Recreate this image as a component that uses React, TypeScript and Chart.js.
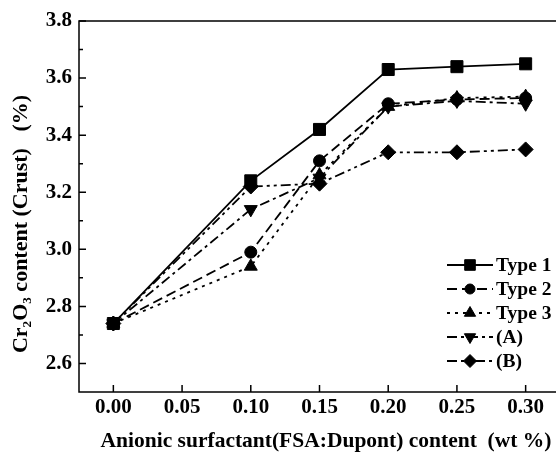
import { useEffect, useRef } from "react";
import { Chart, registerables } from "chart.js";
import { drawPoint } from "chart.js/helpers";

Chart.register(...registerables);

const xValues = [0, 0.1, 0.15, 0.2, 0.25, 0.3];
const type1 = [2.74, 3.24, 3.42, 3.63, 3.64, 3.65];
const type2 = [2.74, 2.99, 3.31, 3.51, 3.525, 3.53];
const type3 = [2.74, 2.94, 3.26, 3.5, 3.53, 3.535];
const seriesA = [2.74, 3.14, 3.25, 3.5, 3.52, 3.51];
const seriesB = [2.74, 3.22, 3.23, 3.34, 3.34, 3.35];
const seriesLabels = ["Type 1", "Type 2", "Type 3", "(A)", "(B)"];
const xTicks = [0, 0.05, 0.1, 0.15, 0.2, 0.25, 0.3];
const yTicks = [2.6, 2.8, 3.0, 3.2, 3.4, 3.6, 3.8];
const yMinorTicks = [2.7, 2.9, 3.1, 3.3, 3.5, 3.7];
const xTitle = "Anionic surfactant(FSA:Dupont) content  (wt %)";
const yTitle = "Cr\u2082O\u2083 content (Crust)   (%)";

const FONT = "'Liberation Serif', 'Times New Roman', serif";

const styles = [
  { pointStyle: "rect", radius: 8.5, rotation: 0, dash: [] as number[] },
  { pointStyle: "circle", radius: 6, rotation: 0, dash: [10, 5] },
  { pointStyle: "triangle", radius: 7.5, rotation: 0, dash: [3, 5] },
  { pointStyle: "triangle", radius: 7.5, rotation: 180, dash: [10, 4, 3, 4] },
  { pointStyle: "rectRot", radius: 7.5, rotation: 0, dash: [10, 4, 3, 4, 3, 4] },
];

const seriesValues = [type1, type2, type3, seriesA, seriesB];

const framePlugin = {
  id: "frameAndLegend",
  afterDraw(chart: any) {
    const { ctx, chartArea: a, scales } = chart;
    ctx.save();
    ctx.strokeStyle = "#000";
    ctx.lineWidth = 1.5;
    ctx.setLineDash([]);
    ctx.strokeRect(a.left, a.top, a.right - a.left, a.bottom - a.top);
    ctx.beginPath();
    yTicks.forEach((v) => {
      const y = scales.y.getPixelForValue(v);
      ctx.moveTo(a.left, y);
      ctx.lineTo(a.left + 7, y);
    });
    yMinorTicks.forEach((v) => {
      const y = scales.y.getPixelForValue(v);
      ctx.moveTo(a.left, y);
      ctx.lineTo(a.left + 4, y);
    });
    xTicks.forEach((v) => {
      const x = scales.x.getPixelForValue(v);
      ctx.moveTo(x, a.bottom);
      ctx.lineTo(x, a.bottom - 7);
    });
    ctx.stroke();

    // axis titles
    ctx.fillStyle = "#000";
    ctx.textBaseline = "middle";
    ctx.textAlign = "center";
    ctx.font = `bold 21.5px ${FONT}`;
    ctx.fillText(xTitle, 326, 441);
    ctx.save();
    ctx.translate(21, 224);
    ctx.rotate(-Math.PI / 2);
    ctx.font = `bold 22px ${FONT}`;
    ctx.fillText(yTitle, 0, 0);
    ctx.restore();

    // legend
    const lx0 = 447;
    const lx1 = 493;
    const ly0 = 265;
    const step = 24;
    ctx.font = `bold 19.5px ${FONT}`;
    ctx.textBaseline = "middle";
    ctx.textAlign = "left";
    seriesLabels.forEach((label, i) => {
      const y = ly0 + i * step;
      const s = styles[i];
      ctx.beginPath();
      ctx.lineWidth = 1.8;
      ctx.setLineDash(s.dash);
      ctx.moveTo(lx0, y);
      ctx.lineTo(lx1, y);
      ctx.stroke();
      ctx.setLineDash([]);
      ctx.lineWidth = 1;
      drawPoint(
        ctx,
        { pointStyle: s.pointStyle as any, radius: s.radius - 1, rotation: s.rotation, borderWidth: 1 },
        (lx0 + lx1) / 2,
        y
      );
      ctx.fillText(label, lx1 + 3, y + 1);
    });
    ctx.restore();
  },
};

export default function App() {
  const ref = useRef<HTMLCanvasElement | null>(null);
  useEffect(() => {
    if (!ref.current) return;
    const datasets = seriesValues.map((vals, i) => ({
      label: seriesLabels[i],
      data: xValues.map((x, j) => ({ x, y: vals[j] })),
      borderColor: "#000",
      backgroundColor: "#000",
      borderWidth: 1.8,
      borderDash: styles[i].dash,
      pointStyle: styles[i].pointStyle as any,
      pointRadius: styles[i].radius,
      pointRotation: styles[i].rotation,
      pointBorderWidth: 1,
      pointBackgroundColor: "#000",
      pointBorderColor: "#000",
      tension: 0,
      fill: false,
    }));
    const chart = new Chart(ref.current, {
      type: "line",
      data: { datasets },
      options: {
        animation: false,
        responsive: false,
        devicePixelRatio: 1,
        layout: { padding: { left: 0, top: 21, right: 20, bottom: 0 } },
        plugins: { legend: { display: false }, tooltip: { enabled: false } },
        scales: {
          x: {
            type: "linear",
            min: -0.025,
            max: 0.325,
            grid: { display: false, drawTicks: false },
            border: { display: false },
            afterFit: (s: any) => {
              s.height = 65;
            },
            afterBuildTicks: (s: any) => {
              s.ticks = xTicks.map((v) => ({ value: v }));
            },
            ticks: {
              padding: 3,
              color: "#000",
              font: { family: FONT, size: 21, weight: "bold" },
              callback: (v: any) => Number(v).toFixed(2),
              maxRotation: 0,
            },
            title: { display: false },
          },
          y: {
            type: "linear",
            min: 2.5,
            max: 3.8,
            grid: { display: false, drawTicks: false },
            border: { display: false },
            afterFit: (s: any) => {
              s.width = 79;
            },
            afterBuildTicks: (s: any) => {
              s.ticks = yTicks.map((v) => ({ value: v }));
            },
            ticks: {
              padding: 7,
              color: "#000",
              font: { family: FONT, size: 21, weight: "bold" },
              callback: (v: any) => Number(v).toFixed(1),
            },
            title: { display: false },
          },
        },
      },
      plugins: [framePlugin],
    });
    return () => chart.destroy();
  }, []);
  return (
    <div
      style={{
        position: "absolute",
        left: 0,
        top: 0,
        width: 556,
        height: 457,
        overflow: "hidden",
        background: "#fff",
      }}
    >
      <canvas ref={ref} width={580} height={457} style={{ display: "block", width: 580, height: 457 }} />
    </div>
  );
}
